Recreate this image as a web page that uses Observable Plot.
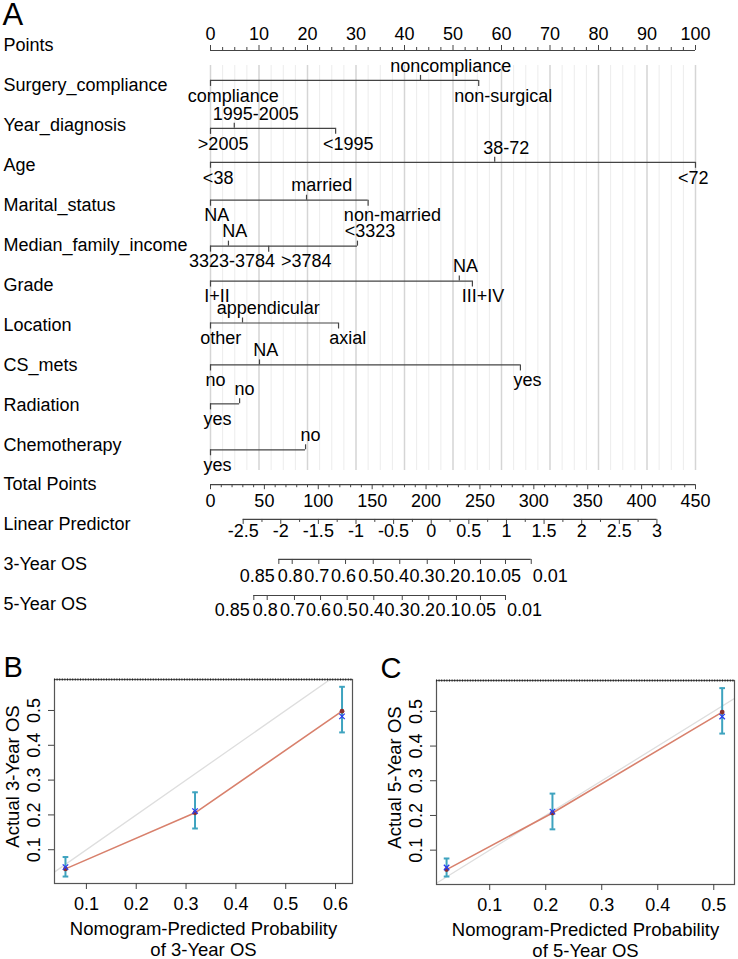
<!DOCTYPE html>
<html><head><meta charset="utf-8">
<script src="https://cdn.jsdelivr.net/npm/d3@7"></script>
<script src="https://cdn.jsdelivr.net/npm/@observablehq/plot@0.6"></script>
<style>
html,body{margin:0;padding:0;background:#fff;overflow:hidden;}
#wrap{width:738px;height:959px;font-family:"Liberation Sans",Arial,Helvetica,sans-serif;}
#cal{display:flex;}
svg{display:block;}
</style></head>
<body><div id="wrap"><div id="nomo"></div><div id="cal"><div id="b"></div><div id="c"></div></div></div>
<script>
// ---------------- DATA ----------------
const rowNames = ["Points","Surgery_compliance","Year_diagnosis","Age","Marital_status","Median_family_income","Grade","Location","CS_mets","Radiation","Chemotherapy","Total Points","Linear Predictor","3-Year OS","5-Year OS"];
const pointsLabels = [0,10,20,30,40,50,60,70,80,90,100];

const surgeryLevels = ["compliance","noncompliance","non-surgical"];
const surgeryPoints = [0, 43.3, 55.3];
const yearLevels = [">2005","1995-2005","<1995"];
const yearPoints = [0, 4.9, 25.8];
const ageLevels = ["<38","38-72","<72"];
const agePoints = [0, 58.6, 100];
const maritalLevels = ["NA","married","non-married"];
const maritalPoints = [0, 19.8, 32.5];
const incomeLevels = ["3323-3784","NA",">3784","<3323"];
const incomePoints = [0, 3.7, 12.0, 30.3];
const gradeLevels = ["I+II","NA","III+IV"];
const gradePoints = [0, 51.3, 54.0];
const locationLevels = ["other","appendicular","axial"];
const locationPoints = [0, 6.6, 26.4];
const csLevels = ["no","NA","yes"];
const csPoints = [0, 10.1, 63.9];
const radiationLevels = ["yes","no"];
const radiationPoints = [0, 6.0];
const chemoLevels = ["yes","no"];
const chemoPoints = [0, 19.6];

const totalPointsLabels = [0,50,100,150,200,250,300,350,400,450];
const lpLabels = [-2.5,-2,-1.5,-1,-0.5,0,0.5,1,1.5,2,2.5,3];
const lpTotalAtZero = 204.8;   // total points where linear predictor = 0
const lpTotalPerUnit = 69.8;   // total points per unit of linear predictor
const osLabels = ["0.85","0.8","0.7","0.6","0.5","0.4","0.3","0.2","0.1","0.05","0.01"];
const os3Total = [63.4, 75.8, 100.5, 125.3, 151.0, 175.6, 201.1, 226.4, 250.5, 273.7, 297.6];
const os5Total = [40.2, 52.6, 77.9, 102.1, 126.8, 151.5, 177.9, 202.5, 228.2, 250.5, 273.7];

// Calibration B (3-year)
const predB = [0.058, 0.318, 0.613];
const obsB  = [0.045, 0.206, 0.498];
const kmB   = [0.050, 0.211, 0.483];
const loB   = [0.023, 0.161, 0.437];
const hiB   = [0.079, 0.265, 0.568];
const xTicksB = [0.1,0.2,0.3,0.4,0.5,0.6];
// Calibration C (5-year)
const predC = [0.023, 0.212, 0.515];
const obsC  = [0.044, 0.207, 0.498];
const kmC   = [0.050, 0.211, 0.485];
const loC   = [0.024, 0.160, 0.436];
const hiC   = [0.076, 0.263, 0.567];
const xTicksC = [0.1,0.2,0.3,0.4,0.5];
const yTicks = [0.1,0.2,0.3,0.4,0.5];

// ---------------- LAYOUT (pixels, not data) ----------------
const FONT = "Liberation Sans, Arial, Helvetica, sans-serif";
const X0 = 210, X1 = 695;                 // points 0..100
const PX = (604 - 45) / 14;               // pixels per row
const u = px => px / PX;
const lineShiftPx = [5, -5, 3, -3, -5, 1, -4, -2, 0, -1, 5, 0, -5.2, -5.1, -9];
const AX = "#444";

// text width measurement
const ctx2d = document.createElement("canvas").getContext("2d");
ctx2d.font = "18px 'Liberation Sans', Arial, sans-serif";
const textW = s => ctx2d.measureText(s).width;
const pxPerPt = (X1 - X0) / 100;
const toPt = px => (px - X0) / pxPerPt;

const TOTAL_MAX = 450;
const tp = t => t / TOTAL_MAX * 100;      // total points -> points scale

const variables = [
  ["Surgery_compliance", surgeryLevels, surgeryPoints],
  ["Year_diagnosis", yearLevels, yearPoints],
  ["Age", ageLevels, agePoints],
  ["Marital_status", maritalLevels, maritalPoints],
  ["Median_family_income", incomeLevels, incomePoints],
  ["Grade", gradeLevels, gradePoints],
  ["Location", locationLevels, locationPoints],
  ["CS_mets", csLevels, csPoints],
  ["Radiation", radiationLevels, radiationPoints],
  ["Chemotherapy", chemoLevels, chemoPoints]
].map(([name, levels, points]) => {
  const i = rowNames.indexOf(name);
  return {name, levels, points, row: i + u(lineShiftPx[i])};
});

const levelTable = variables.flatMap(v => {
  const order = d3.range(v.levels.length).sort((a, b) => v.points[a] - v.points[b]);
  const items = order.map((j, r) => {
    const w = textW(v.levels[j]);
    const tick = X0 + v.points[j] * pxPerPt;
    let c = tick + 0.25 * w;
    c = Math.min(c, 708 - w / 2);
    return {row: v.row, label: v.levels[j], pts: v.points[j], above: r % 2 === 1, w, c};
  });
  for (const side of [true, false]) {
    let prevEnd = -Infinity;
    for (const d of items.filter(d => d.above === side)) {
      if (d.c - d.w / 2 < prevEnd + 6) d.c = prevEnd + 6 + d.w / 2;
      prevEnd = d.c + d.w / 2;
    }
  }
  items.forEach(d => d.lx = toPt(d.c));
  return items;
});

const gridAll = d3.range(0, 100.001, 2.5);
const gridMinor = gridAll.filter(v => v % 10 !== 0);
const gridMajor = gridAll.filter(v => v % 10 === 0);

const ptsLine = 0 + u(lineShiftPx[0]);
const totLine = 11 + u(lineShiftPx[11]);
const lpLine = 12 + u(lineShiftPx[12]);
const os3Line = 13 + u(lineShiftPx[13]);
const os5Line = 14 + u(lineShiftPx[14]);
const lpToPts = lp => tp(lpTotalAtZero + lpTotalPerUnit * lp);
const lpAll = d3.range(-2.5, 3.001, 0.25);
const totAll = d3.range(0, TOTAL_MAX + 0.001, 10);

// OS axes: ticks at survival values, labels packed so they do not overlap
function osTable(totals, line) {
  const n = osLabels.length;
  const rows = osLabels.map((lab, i) => ({lab, x: tp(totals[i]), line, w: textW(lab)}));
  const tickPx = i => X0 + rows[i].x * pxPerPt;
  rows[n - 1].c = tickPx(n - 1) + 1.5 + rows[n - 1].w / 2;
  for (let i = n - 2; i >= 0; i--) {
    const want = i === 0 ? tickPx(i) - 4 - rows[i].w / 2 : tickPx(i) - 2;
    const nextStart = rows[i + 1].c - rows[i + 1].w / 2;
    rows[i].c = Math.min(want, nextStart - 0.5 - rows[i].w / 2);
  }
  rows.forEach(d => d.lx = toPt(d.c));
  return rows;
}
const os3 = osTable(os3Total, os3Line);
const os5 = osTable(os5Total, os5Line);
const tt = {fontSize: 18, fill: "#000"};

const nomo = Plot.plot({
  width: 738, height: 620,
  marginLeft: 0, marginRight: 0, marginTop: 0, marginBottom: 0,
  x: {domain: [0, 100], range: [X0, X1], axis: null},
  y: {domain: [0, 14], range: [45, 604], axis: null},
  style: {fontFamily: FONT, fontSize: "18px", color: "#000", background: "#fff"},
  marks: [
    Plot.ruleX(gridMinor, {x: d => d, y1: () => u(65 - 45), y2: () => u(470 - 45), stroke: "#ececec", strokeWidth: 1}),
    Plot.ruleX(gridMajor, {x: d => d, y1: () => u(65 - 45), y2: () => u(470 - 45), stroke: "#d5d5d5", strokeWidth: 1.5}),
    // row names
    Plot.text(rowNames, {y: (d, i) => i, frameAnchor: "left", dx: 3, textAnchor: "start", text: d => d, ...tt}),
    // Points axis
    Plot.ruleY([ptsLine], {y: d => d, x1: () => 0, x2: () => 100, stroke: AX, strokeWidth: 1.2}),
    Plot.ruleX(gridAll, {x: d => d, y1: () => ptsLine, y2: d => ptsLine - u(d % 10 === 0 ? 5 : 3), stroke: AX}),
    Plot.text(pointsLabels, {x: d => d, y: () => ptsLine, dy: -16.5, text: d => String(d), ...tt}),
    // variable lines
    Plot.ruleY(variables, {y: d => d.row, x1: d => d3.min(d.points), x2: d => d3.max(d.points), stroke: AX, strokeWidth: 1.2}),
    Plot.ruleX(levelTable, {x: "pts", y1: d => d.row, y2: d => d.row + (d.above ? -u(5) : u(6)), stroke: AX, strokeWidth: 1.2}),
    Plot.text(levelTable.filter(d => d.above), {x: "lx", y: "row", dy: -14.5, text: "label", ...tt}),
    Plot.text(levelTable.filter(d => !d.above), {x: "lx", y: "row", dy: 15.5, text: "label", ...tt}),
    // Total points
    Plot.ruleY([totLine], {y: d => d, x1: () => 0, x2: () => 100, stroke: AX, strokeWidth: 1.2}),
    Plot.ruleX(totAll, {x: d => tp(d), y1: () => totLine, y2: d => totLine + u(d % 50 === 0 ? 5 : 3), stroke: AX}),
    Plot.text(totalPointsLabels, {x: d => tp(d), y: () => totLine, dy: 16.5, text: d => String(d), ...tt}),
    // Linear predictor
    Plot.ruleY([lpLine], {y: d => d, x1: () => lpToPts(lpLabels[0]), x2: () => lpToPts(lpLabels[lpLabels.length - 1]), stroke: AX, strokeWidth: 1.2}),
    Plot.ruleX(lpAll, {x: d => lpToPts(d), y1: () => lpLine, y2: d => lpLine + u(Math.abs(d * 2 - Math.round(d * 2)) < 1e-6 ? 5 : 3), stroke: AX}),
    Plot.text(lpLabels, {x: d => lpToPts(d), y: () => lpLine, dy: 11.5, text: d => String(d), ...tt}),
    // 3-year & 5-year OS
    ...[os3, os5].flatMap((tab, k) => [
      Plot.ruleY([tab[0].line], {y: d => d, x1: () => tab[0].x, x2: () => tab[tab.length - 1].x, stroke: AX, strokeWidth: 1.2}),
      Plot.ruleX(tab, {x: "x", y1: "line", y2: d => d.line + u(5), stroke: AX}),
      Plot.text(tab, {x: "lx", y: "line", dy: k === 0 ? 17 : 15, text: "lab", ...tt})
    ]),
    Plot.text(["A"], {frameAnchor: "top-left", dx: 2, dy: 14.5, lineAnchor: "middle", textAnchor: "start", fontSize: 31, fill: "#000", text: d => d})
  ]
});
document.getElementById("nomo").appendChild(nomo);

// ---------------- CALIBRATION ----------------
const capSymbol = {draw(ctx, size) { const w = Math.sqrt(size); ctx.moveTo(-w, 0); ctx.lineTo(w, 0); }};
const diag = [0, 1];

function calib({pred, obs, km, lo, hi, xDomain, yDomain, xTicks, xTitle, yTitle, letter, letterDx, ml, mr, mt, mb}) {
  const idx = d3.range(pred.length);
  return Plot.plot({
    width: 369, height: 339,
    marginLeft: ml, marginRight: mr, marginTop: mt, marginBottom: mb,
    x: {domain: xDomain}, y: {domain: yDomain},
    style: {fontFamily: FONT, fontSize: "18px", color: "#000", background: "#fff", overflow: "visible"},
    marks: [
      Plot.line(diag, {x: d => d, y: d => d, clip: true, stroke: "#dedede", strokeWidth: 1.3}),
      Plot.line(idx, {x: i => pred[i], y: i => obs[i], stroke: "#d8806c", strokeWidth: 1.6}),
      Plot.ruleX(idx, {x: i => pred[i], y1: i => lo[i], y2: i => hi[i], stroke: "#3ea3bf", strokeWidth: 2}),
      Plot.dot(idx.flatMap(i => [[pred[i], lo[i]], [pred[i], hi[i]]]), {x: d => d[0], y: d => d[1], symbol: capSymbol, r: 1.6, stroke: "#3ea3bf", strokeWidth: 2, fill: "none"}),
      Plot.dot(idx, {x: i => pred[i], y: i => obs[i], r: 2.4, fill: "#8a3030", stroke: "none"}),
      Plot.dot(idx, {x: i => pred[i], y: i => km[i], symbol: "times", r: 2.6, stroke: "#2a3cf0", strokeWidth: 1.3}),
      Plot.frame({stroke: "#555", strokeWidth: 1.2}),
      Plot.ruleY([yDomain[1]], {y: d => d, stroke: "#222", strokeWidth: 2, strokeDasharray: "1,1.6"}),
      Plot.axisX({ticks: xTicks, tickSize: 6, tickPadding: 8, fontSize: 18, label: null, tickFormat: d => String(d), stroke: "#444"}),
      Plot.axisY({ticks: yTicks, tickSize: 6, label: null, tickFormat: () => "", stroke: "#444"}),
      Plot.text(yTicks, {y: d => d, frameAnchor: "left", dx: -20.5, rotate: -90, textAnchor: "middle", lineAnchor: "middle", text: d => String(d), fontSize: 18, fill: "#000"}),
      Plot.text([yTitle], {frameAnchor: "left", dx: -41, dy: -5, rotate: -90, textAnchor: "middle", lineAnchor: "middle", text: d => d, fontSize: 18.5, fill: "#000"}),
      Plot.text([xTitle], {frameAnchor: "bottom", dy: 37.5, lineAnchor: "top", lineHeight: 1.1, text: d => d, fontSize: 18.5, fill: "#000"}),
      Plot.text([letter], {frameAnchor: "top-left", dx: letterDx, dy: -12, textAnchor: "start", lineAnchor: "middle", text: d => d, fontSize: 29, fill: "#000"})
    ]
  });
}

document.getElementById("b").appendChild(calib({
  pred: predB, obs: obsB, km: kmB, lo: loB, hi: hiB,
  xDomain: [0.036, 0.634], yDomain: [0.003, 0.589], xTicks: xTicksB,
  xTitle: "Nomogram-Predicted Probability\nof 3-Year OS", yTitle: "Actual 3-Year OS",
  letter: "B", letterDx: -51, ml: 54, mr: 17, mt: 59, mb: 76
}));
document.getElementById("c").appendChild(calib({
  pred: predC, obs: obsC, km: kmC, lo: loC, hi: hiC,
  xDomain: [0.005, 0.537], yDomain: [0.001, 0.589], xTicks: xTicksC,
  xTitle: "Nomogram-Predicted Probability\nof 5-Year OS", yTitle: "Actual 5-Year OS",
  letter: "C", letterDx: -56, ml: 67, mr: 4, mt: 60, mb: 75
}));
</script>
</body></html>
